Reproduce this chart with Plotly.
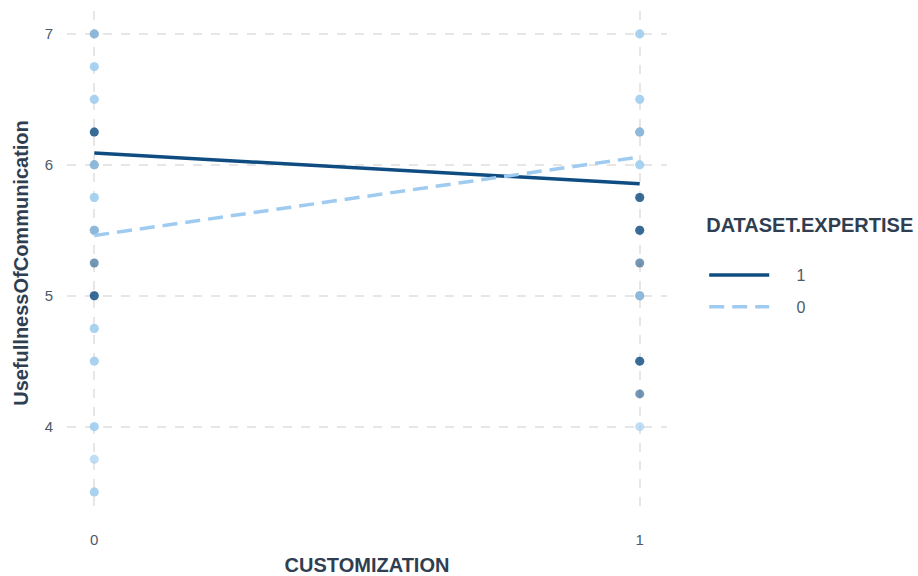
import plotly.graph_objects as go

# Observations (CUSTOMIZATION, UsefullnessOfCommunication) per expertise group
exp1_x = [0, 0, 0, 0, 0, 0, 0, 0,
          1, 1, 1, 1, 1, 1, 1, 1, 1, 1]
exp1_y = [7, 6.25, 6.25, 6, 5.5, 5.25, 5, 5,
          6.25, 5.75, 5.75, 5.5, 5.5, 5.25, 5, 4.5, 4.5, 4.25]
exp0_x = [0] * 18 + [1] * 9
exp0_y = [7, 6.75, 6.75, 6.5, 6.5, 6, 5.75, 5.75, 5.5, 4.75, 4.75, 4.5, 4.5, 4, 4, 3.75, 3.5, 3.5,
          7, 7, 6.5, 6.5, 6.25, 6, 6, 5, 4]

# Fitted linear trends
fit_x = [0, 1]
fit1_y = [6.09, 5.855]
fit0_y = [5.46, 6.06]

dark = "#0f4c81"
light = "#9ecbef"
font = "Liberation Sans, Arial, sans-serif"
title_color = "#2f3e50"

fig = go.Figure()
fig.add_trace(go.Scatter(x=exp1_x, y=exp1_y, mode="markers", showlegend=False,
                         marker=dict(color=dark, size=9, opacity=0.58, line=dict(width=0))))
fig.add_trace(go.Scatter(x=exp0_x, y=exp0_y, mode="markers", showlegend=False,
                         marker=dict(color=light, size=9, opacity=0.66, line=dict(width=0))))
fig.add_trace(go.Scatter(x=fit_x, y=fit1_y, mode="lines", name="     1", legendgroup="a",
                         line=dict(color=dark, width=3.5)))
fig.add_trace(go.Scatter(x=fit_x, y=fit0_y, mode="lines", name="     0", legendgroup="b",
                         line=dict(color=light, width=3.5, dash="15px,8px")))

fig.update_layout(
    width=918, height=576,
    margin=dict(l=67, r=251, t=11, b=61, autoexpand=False),
    paper_bgcolor="white", plot_bgcolor="white",
    font=dict(family=font, color="#4d5a68", size=15),
    legend=dict(
        title=dict(text="<b>DATASET.EXPERTISE</b><br> ",
                   font=dict(size=20, color=title_color), side="top"),
        x=1.062, xanchor="left", y=0.613, yanchor="top",
        font=dict(size=16, color="#4d5a68"),
        tracegroupgap=8, itemwidth=60,
    ),
    xaxis=dict(
        range=[-0.05, 1.05], tickvals=[0, 1], ticktext=["0", "1"],
        tickfont=dict(size=15, color="#4d5a68"),
        showgrid=True, gridcolor="#e6e6e6", gridwidth=1.6, griddash="dash",
        zeroline=False, showline=False, ticks="", ticklabelstandoff=14, automargin=False,
        title=dict(text="<b>CUSTOMIZATION</b>", font=dict(size=20, color=title_color), standoff=12),
    ),
    yaxis=dict(
        range=[3.325, 7.175], tickvals=[4, 5, 6, 7],
        tickfont=dict(size=15, color="#4d5a68"),
        showgrid=True, gridcolor="#e6e6e6", gridwidth=1.6, griddash="dash",
        zeroline=False, showline=False, ticks="", ticklabelstandoff=13, automargin=False,
        title=dict(text="<b>UsefullnessOfCommunication</b>", font=dict(size=20, color=title_color), standoff=10),
    ),
)

fig.write_html("out.html")
